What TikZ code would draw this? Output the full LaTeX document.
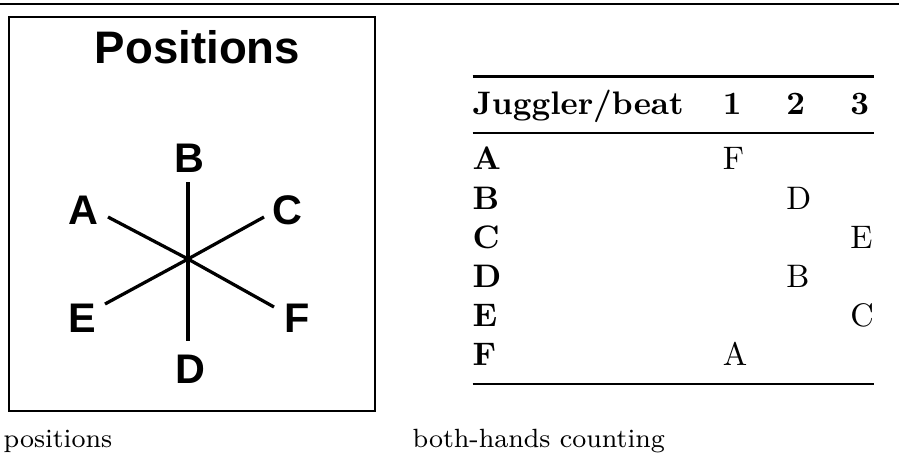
\documentclass[tikz,border=0pt]{standalone}
\usepackage{fontspec}
\usepackage{booktabs}
\usepackage{tikz}
\newfontfamily\helv{Liberation Sans}

\begin{document}
\begin{tikzpicture}[
        x=0.3071pt, y=-0.3071pt,
        heading/.style={font=\helv\bfseries\fontsize{14}{16}\selectfont, anchor=base, inner sep=0},
        spot/.style={font=\helv\bfseries\fontsize{12.7}{15}\selectfont, anchor=base, inner sep=0},
        arm/.style={line width=1pt},
        rulebox/.style={line width=0.6pt},
        capt/.style={font=\fontsize{8.1}{10}\selectfont, anchor=base west, inner sep=0}
    ]
        \useasboundingbox (0,0) rectangle (899,460);
        \draw[rulebox] (0,4) -- (899,4);

        % left panel
        \draw[rulebox] (9.3,17.3) rectangle (375,410.7);
        \node[heading] (title) at (197.5,63) {Positions};
        \node[spot] (pB) at (189,172) {B};
        \node[spot] (pA) at (83.5,224) {A};
        \node[spot] (pC) at (287.5,224) {C};
        \node[spot] (pE) at (82.5,332) {E};
        \node[spot] (pF) at (297,332) {F};
        \node[spot] (pD) at (190,383) {D};
        \coordinate (ctr) at (188,259);
        \coordinate (eB) at (188,182);
        \coordinate (eD) at (188,341);
        \coordinate (eA) at (108,217);
        \coordinate (eC) at (264,217);
        \coordinate (eE) at (105,304);
        \coordinate (eF) at (274,307);
        \draw[arm] (eB) -- (eD);
        \draw[arm] (eA) -- (ctr) -- (eF);
        \draw[arm] (eE) -- (ctr) -- (eC);

        % right panel
        \node[anchor=north west, inner sep=0] (tbl) at (472,74.8) {%
            \begin{tabular}{@{}llll@{}}
                \toprule
                \textbf{Juggler/beat} & \textbf{1} & \textbf{2} & \textbf{3} \\
                \midrule
                \textbf{A} & F &   &   \\
                \textbf{B} &   & D &   \\
                \textbf{C} &   &   & E \\
                \textbf{D} &   & B &   \\
                \textbf{E} &   &   & C \\
                \textbf{F} & A &   &   \\
                \bottomrule
            \end{tabular}};

        \node[capt] (capl) at (3,447.5) {positions};
        \node[capt] (capr) at (412,447.5) {both-hands counting};
    \end{tikzpicture}
\end{document}
